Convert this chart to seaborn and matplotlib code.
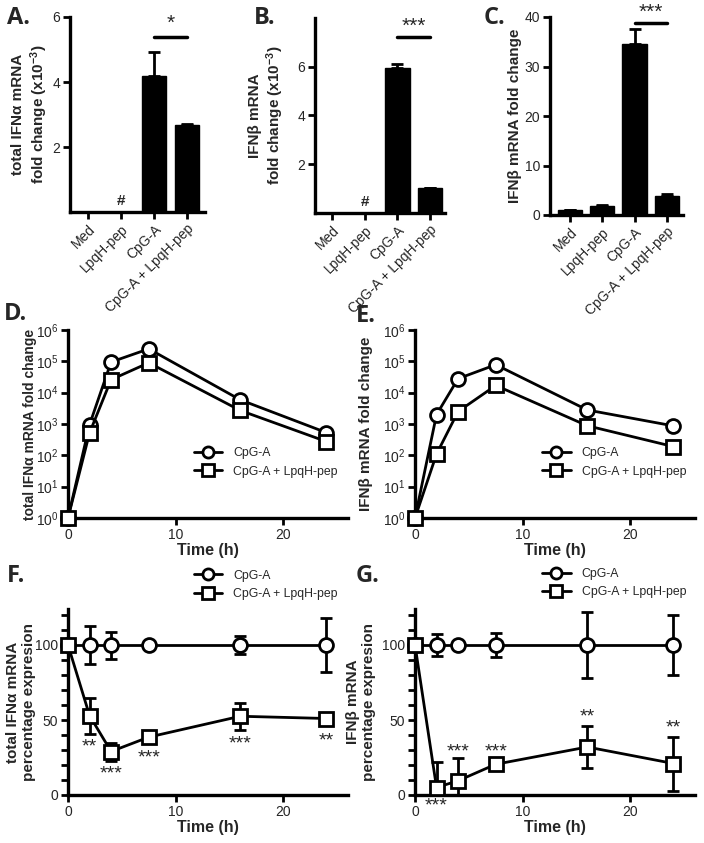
import numpy as np
import pandas as pd
import matplotlib
matplotlib.use('Agg')
import matplotlib.pyplot as plt
import seaborn as sns
from matplotlib.ticker import FixedLocator, MultipleLocator, NullLocator

# ---------------- data ----------------
categories = ['Med', 'LpqH-pep', 'CpG-A', 'CpG-A + LpqH-pep']
ifna_bar = [0, 0, 4.18, 2.69]
ifna_bar_err = [0, 0, 0.75, 0.03]
ifnb_bar = [0, 0, 5.94, 1.02]
ifnb_bar_err = [0, 0, 0.16, 0.02]
ifnb_fold = [1.0, 1.9, 34.5, 3.9]
ifnb_fold_err = [0.1, 0.2, 3.0, 0.4]

time_h = [0, 2, 4, 7.5, 16, 24]
ifna_cpg = [1, 950, 95000, 250000, 5900, 530]
ifna_cpg_lpqh = [1, 520, 26000, 90000, 2700, 275]
ifnb_cpg = [1, 2000, 28000, 78000, 2800, 870]
ifnb_cpg_lpqh = [1, 110, 2500, 17000, 880, 190]

ifna_pct_cpg = [100, 100, 100, 100, 100, 100]
ifna_pct_cpg_err = [0, 12.5, 9, 1, 6, 18]
ifna_pct_lpqh = [100, 53, 29, 38.6, 52.5, 51]
ifna_pct_lpqh_err = [0, 12, 6, 2, 9, 1.5]
ifnb_pct_cpg = [100, 100, 100, 100, 100, 100]
ifnb_pct_cpg_err = [0, 7.5, 0.5, 8, 22, 20]
ifnb_pct_lpqh = [100, 5, 9.5, 20.5, 32, 21]
ifnb_pct_lpqh_err = [0, 17, 15.5, 2, 14, 18]

f_stars = ['**', '***', '***', '***', '**']
g_stars = ['***', '***', '***', '**', '**']

series_names = ['CpG-A', 'CpG-A + LpqH-pep']

# ---------------- style ----------------
sns.set_style('ticks')
plt.rcParams['font.family'] = ['Liberation Sans', 'DejaVu Sans']
plt.rcParams['axes.linewidth'] = 2.2
plt.rcParams['mathtext.default'] = 'regular'

W, H = 704, 843
fig = plt.figure(figsize=(W / 100, H / 100), dpi=100)


def rect(l, t, r, b):
    return [l / W, 1 - b / H, (r - l) / W, (b - t) / H]


def style_axes(ax):
    sns.despine(ax=ax)
    ax.tick_params(axis='both', which='major', direction='out', length=5, width=2,
                   labelsize=10, pad=2, color='black')
    ax.tick_params(axis='both', which='minor', direction='out', length=4, width=2,
                   color='black')
    for s in ['left', 'bottom']:
        ax.spines[s].set_linewidth(2.4)
        ax.spines[s].set_color('black')
    ax.set_facecolor('none')


def bar_panel(ax, vals, errs, ylim, yticks, xlim):
    df = pd.DataFrame({'cat': categories, 'val': vals})
    sns.barplot(data=df, x='cat', y='val', color='black', width=0.75,
                errorbar=None, ax=ax, saturation=1, edgecolor='black')
    idx = [i for i, v in enumerate(vals) if v > 0]
    ax.errorbar(idx, [vals[i] for i in idx],
                yerr=[[0] * len(idx), [errs[i] for i in idx]],
                fmt='none', ecolor='black', elinewidth=2, capsize=4.5, capthick=2)
    ax.set_ylim(*ylim)
    ax.set_xlim(*xlim)
    ax.yaxis.set_major_locator(FixedLocator(yticks))
    style_axes(ax)
    ax.set_xlabel('')
    ax.set_xticks(range(4))
    ax.set_xticklabels(categories, rotation=45, ha='right', rotation_mode='anchor',
                       fontsize=10)


def ylab(ax, text, xpos, size=11):
    ax.set_ylabel(text, fontsize=size, fontweight='bold')
    ax.yaxis.set_label_coords(xpos, 0.5)


# ---- Panel A ----
axA = fig.add_axes(rect(70, 17, 205, 212))
bar_panel(axA, ifna_bar, ifna_bar_err, (0, 6), [2, 4, 6], (-0.55, 3.55))
ylab(axA, 'total IFNα mRNA\nfold change (x10$^{-3}$)', -0.15)
axA.plot([2, 3], [5.4, 5.4], color='black', lw=2.5, clip_on=False)
axA.text(2.5, 5.5, '*', ha='center', va='bottom', fontsize=15)
axA.text(1, 0.12, '#', ha='center', va='bottom', fontsize=11, fontweight='bold')

# ---- Panel B ----
axB = fig.add_axes(rect(315, 18, 445, 213))
bar_panel(axB, ifnb_bar, ifnb_bar_err, (0, 8), [2, 4, 6], (-0.52, 3.46))
ylab(axB, 'IFNβ mRNA\nfold change (x10$^{-3}$)', -0.22)
axB.plot([2, 3], [7.2, 7.2], color='black', lw=2.5, clip_on=False)
axB.text(2.5, 7.25, '***', ha='center', va='bottom', fontsize=15)
axB.text(1, 0.15, '#', ha='center', va='bottom', fontsize=11, fontweight='bold')

# ---- Panel C ----
axC = fig.add_axes(rect(550, 17, 683, 215))
bar_panel(axC, ifnb_fold, ifnb_fold_err, (0, 40), [0, 10, 20, 30, 40], (-0.62, 3.5))
ylab(axC, 'IFNβ mRNA fold change', -0.21)
axC.plot([2, 3], [38.8, 38.8], color='black', lw=2.5, clip_on=False)
axC.text(2.5, 39.0, '***', ha='center', va='bottom', fontsize=15)


# ---------------- line panels ----------------
def line_panel(ax, y1, y2, e1=None, e2=None, log=False):
    df = pd.DataFrame({
        'Time (h)': time_h * 2,
        'val': list(y1) + list(y2),
        'group': [series_names[0]] * len(time_h) + [series_names[1]] * len(time_h),
    })
    sns.lineplot(data=df, x='Time (h)', y='val', style='group', hue='group',
                 palette=['black', 'black'], markers={series_names[0]: 'o', series_names[1]: 's'},
                 dashes=False, ax=ax, linewidth=2, markersize=10, markeredgewidth=2,
                 markerfacecolor='white', markeredgecolor='black', clip_on=False,
                 legend=True, zorder=3)
    if e1 is not None:
        ax.errorbar(time_h, y1, yerr=e1, fmt='none', ecolor='black', elinewidth=2,
                    capsize=4.5, capthick=2, zorder=2)
        ax.errorbar(time_h, y2, yerr=e2, fmt='none', ecolor='black', elinewidth=2,
                    capsize=4.5, capthick=2, zorder=2)
    ax.set_xlim(0, 26)
    ax.xaxis.set_major_locator(FixedLocator([0, 10, 20]))
    if log:
        ax.set_yscale('log')
        ax.set_ylim(1, 1e6)
        ax.yaxis.set_major_locator(FixedLocator([10 ** i for i in range(7)]))
        ax.yaxis.set_minor_locator(NullLocator())
    style_axes(ax)
    ax.set_xlabel('Time (h)', fontsize=11.5, fontweight='bold', labelpad=1)


def place_legend(ax, x, y):
    h, l = ax.get_legend_handles_labels()
    for hh in h:
        hh.set_markerfacecolor('white')
        hh.set_markeredgecolor('black')
        hh.set_markeredgewidth(2)
        hh.set_markersize(8)
        hh.set_linewidth(2)
    ax.legend(h, l, loc='center left', bbox_to_anchor=(x, y), frameon=False,
              borderaxespad=0, borderpad=0, handlelength=2.3, handletextpad=0.9,
              labelspacing=0.5, fontsize=8.8)


axD = fig.add_axes(rect(68, 330, 348, 518))
line_panel(axD, ifna_cpg, ifna_cpg_lpqh, log=True)
ylab(axD, 'total IFNα mRNA fold change', -0.11, size=10)
place_legend(axD, 0.45, 0.295)

axE = fig.add_axes(rect(415, 330, 695, 518))
line_panel(axE, ifnb_cpg, ifnb_cpg_lpqh, log=True)
ylab(axE, 'IFNβ mRNA fold change', -0.15)
place_legend(axE, 0.455, 0.295)


def pct_panel(ax, y1, e1, y2, e2):
    line_panel(ax, y1, y2, e1, e2)
    ax.set_ylim(0, 124)
    ax.yaxis.set_major_locator(FixedLocator([0, 50, 100]))
    ax.yaxis.set_minor_locator(MultipleLocator(10))
    ax.tick_params(axis='y', which='minor', length=5, width=2)


axF = fig.add_axes(rect(68, 609, 348, 795))
pct_panel(axF, ifna_pct_cpg, ifna_pct_cpg_err, ifna_pct_lpqh, ifna_pct_lpqh_err)
ylab(axF, 'total IFNα mRNA\npercentage expresion', -0.115)
place_legend(axF, 0.45, 1.13)
for t, s, yy in zip(time_h[1:], f_stars, [32, 14, 25, 34, 36]):
    axF.text(t, yy, s, ha='center', va='center', fontsize=14, clip_on=False)

axG = fig.add_axes(rect(415, 609, 695, 795))
pct_panel(axG, ifnb_pct_cpg, ifnb_pct_cpg_err, ifnb_pct_lpqh, ifnb_pct_lpqh_err)
ylab(axG, 'IFNβ mRNA\npercentage expresion', -0.138)
place_legend(axG, 0.455, 1.14)
for t, s, yy in zip(time_h[1:], g_stars, [-7, 29, 29, 52, 45]):
    axG.text(t, yy, s, ha='center', va='center', fontsize=14, clip_on=False)

# panel letters
letters = {'A.': (7, 6), 'B.': (254, 6), 'C.': (484, 6), 'D.': (4, 302),
           'E.': (356, 304), 'F.': (7, 564), 'G.': (356, 564)}
for k, (x, y) in letters.items():
    fig.text(x / W, 1 - y / H, k, ha='left', va='top', fontsize=17, fontweight='bold',
             family=['Open Sans', 'DejaVu Sans'])

fig.savefig('out.png', dpi=100)
